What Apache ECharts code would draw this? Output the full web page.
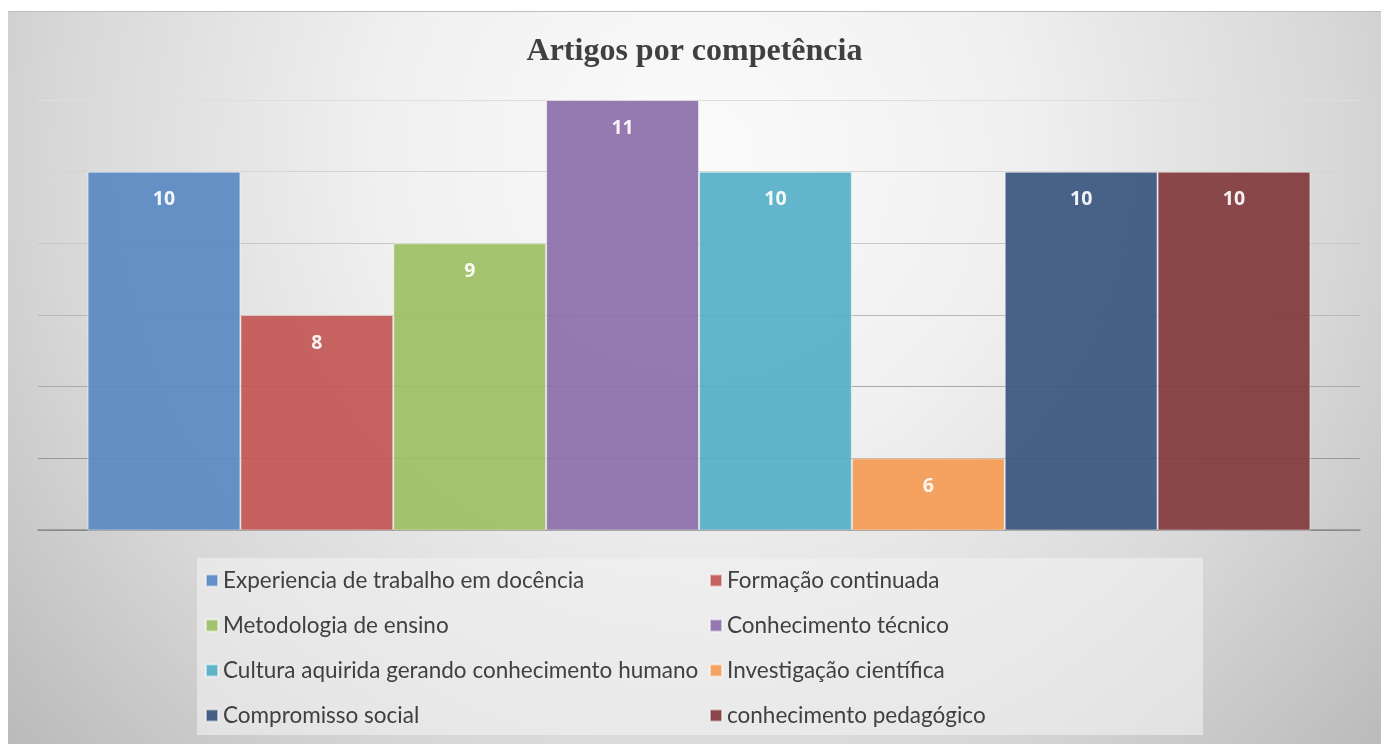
<!DOCTYPE html>
<html>
<head>
<meta charset="utf-8">
<script src="https://cdn.jsdelivr.net/npm/echarts@6/dist/echarts.min.js"></script>
<style>
  html, body { margin: 0; padding: 0; background: #fff; }
  .topline { position: absolute; left: 8px; top: 11px; width: 1373px; height: 1px; background: #bcbcbc; }
  #chart { position: absolute; left: 8px; top: 12px; width: 1373px; height: 732px; }
</style>
</head>
<body>
<div class="topline"></div>
<div id="chart"></div>
<script>
// dados do gráfico
const competencias = [
  "Experiencia de trabalho em docência",
  "Formação continuada",
  "Metodologia de ensino",
  "Conhecimento técnico",
  "Cultura aquirida gerando conhecimento humano",
  "Investigação científica",
  "Compromisso social",
  "conhecimento pedagógico"
];
const artigos = [10, 8, 9, 11, 10, 6, 10, 10];
const cores = ["#5a89c2", "#c25653", "#9dbf63", "#8b6fa9", "#55afc7", "#f59b55", "#3a557e", "#823a3c"];

// linhas de grade: mais escuras embaixo, mais claras em cima
const gridCores = ["#8c8c8c", "#9a9a9a", "#a9a9a9", "#b9b9b9", "#c8c8c8", "#d4d4d4", "#dedede"];

const chart = echarts.init(document.getElementById("chart"));

chart.setOption({
  backgroundColor: {
    type: "radial",
    x: 690, y: 140, r: 910, global: true,
    colorStops: [
      { offset: 0, color: "#fbfbfb" },
      { offset: 0.35, color: "#f0f0f0" },
      { offset: 0.7, color: "#d8d8d8" },
      { offset: 1, color: "#bababa" }
    ]
  },
  animation: false,
  title: {
    text: "Artigos por competência",
    left: "center",
    top: 19,
    textStyle: {
      fontFamily: "Liberation Serif",
      fontWeight: "bold",
      fontSize: 32,
      color: "#404040"
    }
  },
  legend: {
    left: 189,
    top: 546,
    width: 1000,
    padding: [5, 0, 2, 8],
    itemWidth: 12,
    itemHeight: 12,
    itemGap: 10,
    icon: "rect",
    backgroundColor: "rgba(242,242,242,0.6)",
    data: competencias,
    textStyle: {
      fontFamily: "Lato",
      fontSize: 22.5,
      color: "#404040",
      width: 476,
      lineHeight: 35
    }
  },
  grid: { left: 30, top: 88, width: 1322, height: 430 },
  xAxis: {
    type: "category",
    data: [""],
    axisTick: { show: false },
    axisLabel: { show: false },
    axisLine: { lineStyle: { color: "#8c8c8c", width: 1.5 } }
  },
  yAxis: {
    type: "value",
    min: 5,
    max: 11,
    interval: 1,
    axisLabel: { show: false },
    axisLine: { show: false },
    axisTick: { show: false },
    splitLine: { lineStyle: { color: gridCores, width: 1.2 } }
  },
  series: competencias.map((nome, i) => ({
    name: nome,
    type: "bar",
    data: [artigos[i]],
    barGap: "0%",
    barCategoryGap: "7.5%",
    itemStyle: {
      color: cores[i],
      opacity: 0.92,
      borderColor: "rgba(255,255,255,0.55)",
      borderWidth: 1
    },
    label: {
      show: true,
      position: "insideTop",
      distance: 18,
      color: "#fff",
      fontFamily: "Open Sans",
      fontWeight: "bold",
      fontSize: 19.5,
      lineHeight: 20
    }
  }))
});

window.addEventListener("resize", () => chart.resize());
</script>
</body>
</html>
